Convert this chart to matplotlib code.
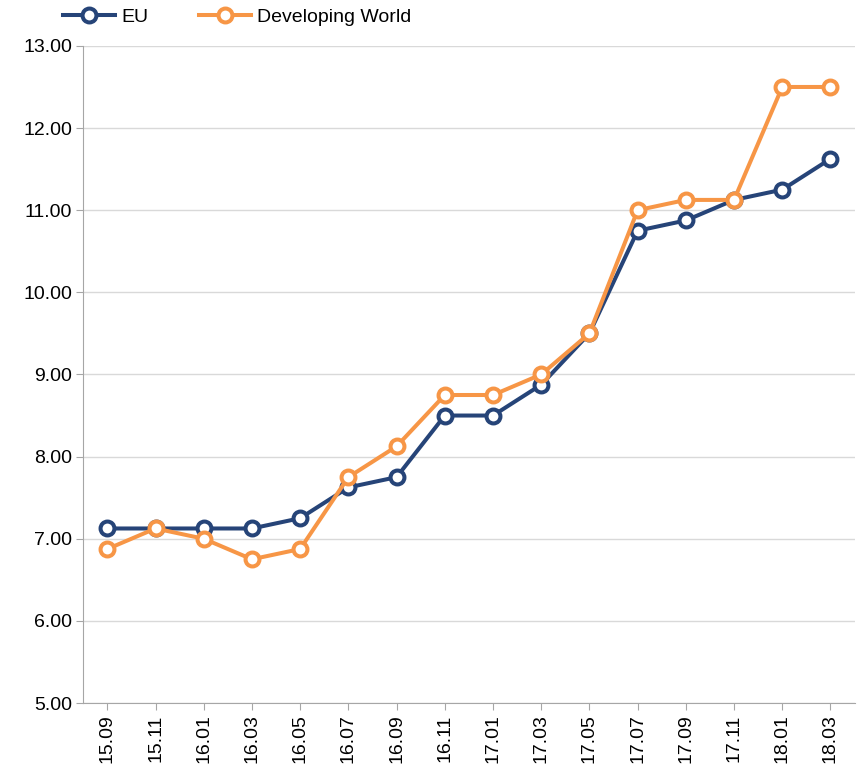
import matplotlib.pyplot as plt

plt.rcParams['font.family'] = ['Liberation Sans', 'DejaVu Sans']

periods = ["15.09", "15.11", "16.01", "16.03", "16.05", "16.07", "16.09", "16.11",
           "17.01", "17.03", "17.05", "17.07", "17.09", "17.11", "18.01", "18.03"]
eu = [7.125, 7.125, 7.125, 7.125, 7.25, 7.625, 7.75, 8.5,
      8.5, 8.875, 9.5, 10.75, 10.875, 11.125, 11.25, 11.625]
developing = [6.875, 7.125, 7.0, 6.75, 6.875, 7.75, 8.125, 8.75,
              8.75, 9.0, 9.5, 11.0, 11.125, 11.125, 12.5, 12.5]
yticks = [5, 6, 7, 8, 9, 10, 11, 12, 13]

fig = plt.figure(figsize=(8.58, 7.65), dpi=100)
ax = fig.add_axes([0.097, 0.081, 0.899, 0.859])

x = list(range(len(periods)))
style = dict(lw=2.9, marker='o', ms=10, mfc='white', mew=2.9)
ax.plot(x, eu, color='#264478', label='EU', zorder=3, **style)
ax.plot(x, developing, color='#F79646', label='Developing World', zorder=4, **style)

ax.set_xlim(-0.5, len(periods) - 0.5)
ax.set_ylim(5, 13)
ax.set_xticks(x)
ax.set_xticklabels(periods, rotation=90, fontsize=14)
ax.set_yticks(yticks)
ax.set_yticklabels([f"{v:.2f}" for v in yticks], fontsize=14)
ax.yaxis.grid(True, color='#d9d9d9', lw=1)
ax.set_axisbelow(True)
for s in ['top', 'right']:
    ax.spines[s].set_visible(False)
for s in ['left', 'bottom']:
    ax.spines[s].set_color('#a6a6a6')
ax.tick_params(axis='both', colors='#a6a6a6', labelcolor='black', length=5, pad=3)

fig.legend(loc='upper left', bbox_to_anchor=(0.053, 1.012), ncol=2, frameon=False,
           fontsize=14, handlelength=2.7, columnspacing=2.6, handletextpad=0.3)

fig.savefig('out.png', dpi=100)
